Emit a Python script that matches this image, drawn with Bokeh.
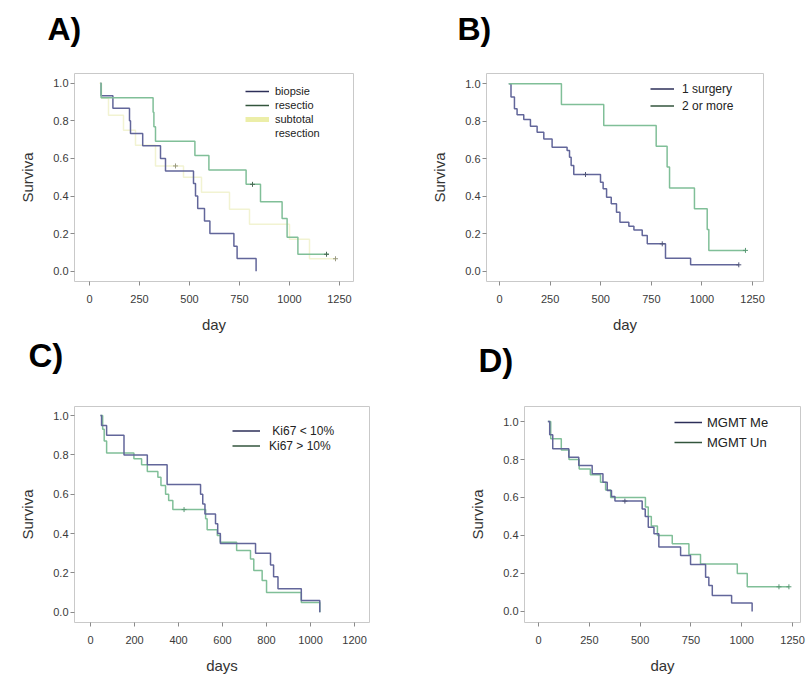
from bokeh.plotting import figure
from bokeh.models import (Legend, LegendItem, FixedTicker, Range1d,
                          NumeralTickFormatter)
from bokeh.core.properties import value
from bokeh.layouts import column, row
from bokeh.embed import file_html
from bokeh.resources import INLINE

# ---------------- data ----------------
# Panel A : extent of resection
a_biopsie_t = [55, 58, 117, 200, 205, 266, 355, 380, 520, 530, 541, 575, 602, 722, 738, 833]
a_biopsie_s = [1.0, 0.933, 0.867, 0.8, 0.733, 0.667, 0.6, 0.533, 0.467, 0.4, 0.333, 0.267, 0.2, 0.133, 0.067, 0.0]
a_resect_t = [55, 58, 318, 322, 330, 527, 597, 783, 855, 963, 988, 1042, 1197]
a_resect_s = [1.0, 0.923, 0.846, 0.769, 0.692, 0.615, 0.538, 0.462, 0.37, 0.28, 0.18, 0.09, 0.09]
a_subtot_t = [50, 60, 95, 170, 230, 330, 470, 560, 700, 800, 1000, 1100, 1230]
a_subtot_s = [1.0, 0.92, 0.83, 0.75, 0.67, 0.56, 0.5, 0.42, 0.33, 0.25, 0.17, 0.066, 0.066]
a_resect_cens_t = [815, 1185]
a_resect_cens_s = [0.462, 0.09]
a_subtot_cens_t = [430, 1230]
a_subtot_cens_s = [0.56, 0.066]

# Panel B : number of surgeries
b_one_t = [46, 57, 74, 87, 120, 153, 186, 219, 260, 334, 346, 354, 367, 499, 512, 529,
           552, 578, 595, 639, 664, 705, 730, 820, 944, 1182]
b_one_s = [1.0, 0.93, 0.867, 0.835, 0.81, 0.774, 0.742, 0.706, 0.662, 0.644, 0.608, 0.564,
           0.516, 0.475, 0.44, 0.395, 0.36, 0.315, 0.261, 0.24, 0.22, 0.19, 0.146, 0.069, 0.034, 0.034]
b_two_t = [46, 306, 515, 774, 828, 840, 963, 1026, 1034, 1215]
b_two_s = [1.0, 0.889, 0.778, 0.667, 0.556, 0.444, 0.333, 0.222, 0.111, 0.111]
b_one_cens_t = [425, 804, 1182]
b_one_cens_s = [0.516, 0.146, 0.034]
b_two_cens_t = [1215]
b_two_cens_s = [0.111]

# Panel C : Ki67
c_low_t = [45, 50, 73, 152, 258, 348, 500, 510, 520, 568, 578, 590, 750, 818, 832, 852, 958, 1042]
c_low_s = [1.0, 0.95, 0.9, 0.8, 0.75, 0.65, 0.6, 0.55, 0.5, 0.45, 0.4, 0.35, 0.3, 0.24, 0.18, 0.12, 0.06, 0.0]
c_high_t = [45, 55, 62, 73, 197, 232, 258, 306, 320, 341, 355, 374, 523, 530, 576, 590, 664,
            727, 742, 780, 800, 958, 1042]
c_high_s = [1.0, 0.93, 0.87, 0.81, 0.78, 0.75, 0.715, 0.686, 0.644, 0.6, 0.568, 0.522, 0.475,
            0.42, 0.39, 0.356, 0.314, 0.271, 0.212, 0.161, 0.10, 0.05, 0.0]
c_high_cens_t = [425]
c_high_cens_s = [0.522]

# Panel D : MGMT
d_me_t = [46, 55, 70, 149, 198, 264, 317, 338, 359, 376, 510, 525, 540, 568, 592, 699, 748,
          822, 838, 855, 950, 1051]
d_me_s = [1.0, 0.93, 0.856, 0.812, 0.768, 0.725, 0.68, 0.637, 0.605, 0.581, 0.54, 0.5, 0.444,
          0.409, 0.339, 0.295, 0.247, 0.18, 0.137, 0.084, 0.044, 0.0]
d_un_t = [46, 60, 112, 150, 200, 255, 305, 330, 355, 526, 540, 555, 585, 658, 740, 797, 978, 1027, 1232]
d_un_s = [1.0, 0.909, 0.85, 0.80, 0.75, 0.72, 0.68, 0.64, 0.60, 0.55, 0.50, 0.45, 0.40, 0.357,
          0.30, 0.25, 0.20, 0.13, 0.13]
d_me_cens_t = [425]
d_me_cens_s = [0.581]
d_un_cens_t = [1183, 1232]
d_un_cens_s = [0.13, 0.13]

ticks_250 = [0, 250, 500, 750, 1000, 1250]
ticks_200 = [0, 200, 400, 600, 800, 1000, 1200]
y_ticks = [0.0, 0.2, 0.4, 0.6, 0.8, 1.0]

panel_letters_top = ["A)", "B)"]
panel_letters_bottom = ["C)", "D)"]

# ---------------- style ----------------
FONT = "Liberation Sans"
BLUE = "#62669a"
GREEN = "#80bf98"
YELLOW = "#f2f3d2"
LEG_YELLOW = "#eceea8"
LEG_BLUE = "#2c2f58"
LEG_GREEN = "#33553c"
NAN = float("nan")
PAGE_W = 806


def header(height, letters, xs, middles, size):
    """A thin strip (pixel-like coordinates, y downwards) holding panel letters."""
    h = figure(frame_width=PAGE_W, frame_height=height,
               min_border_left=0, min_border_right=0, min_border_top=0, min_border_bottom=0,
               x_range=Range1d(0, PAGE_W), y_range=Range1d(height, 0),
               output_backend="svg", toolbar_location=None)
    h.axis.visible = False
    h.grid.visible = False
    h.outline_line_color = None
    h.text(x=xs, y=middles, text=letters, text_font=value(FONT),
           text_font_size=value(size), text_font_style="bold", text_color="black",
           text_baseline="middle", text_align="left")
    return h


def make_panel(fw, fh, borders, xr, yr, xticks, xlabel):
    left, right, top, bottom = borders
    p = figure(frame_width=fw, frame_height=fh,
               min_border_left=left, min_border_right=right,
               min_border_top=top, min_border_bottom=bottom,
               x_range=Range1d(*xr), y_range=Range1d(*yr),
               output_backend="svg", toolbar_location=None)
    p.grid.visible = False
    p.outline_line_color = "#c9c9c9"
    p.outline_line_width = 1
    p.background_fill_color = "white"
    p.border_fill_color = "white"
    for ax in (p.xaxis, p.yaxis):
        ax.axis_line_color = None
        ax.major_tick_line_color = "#8a8a8a"
        ax.minor_tick_line_color = None
        ax.major_tick_in = 0
        ax.major_tick_out = 4
        ax.major_label_text_font = FONT
        ax.major_label_text_font_size = "11px"
        ax.major_label_text_color = "#3a3a3a"
        ax.axis_label_text_font = FONT
        ax.axis_label_text_font_size = "15px"
        ax.axis_label_text_font_style = "normal"
        ax.axis_label_text_color = "#333333"
    p.xaxis.ticker = FixedTicker(ticks=xticks)
    p.yaxis.ticker = FixedTicker(ticks=y_ticks)
    p.yaxis.formatter = NumeralTickFormatter(format="0.0")
    p.xaxis.major_label_standoff = 9
    p.yaxis.major_label_standoff = 2
    p.xaxis.axis_label = xlabel
    p.yaxis.axis_label = "Surviva"
    p.xaxis.axis_label_standoff = 10
    p.yaxis.axis_label_standoff = 14
    return p


def km(p, t, s, color, width=1.5):
    return p.step(x=t, y=s, mode="after", line_color=color, line_width=width)


def cens(p, t, s, color):
    p.scatter(x=t, y=s, marker="cross", size=5, line_color=color, line_width=1)


def legend(p, labels, colors, loc, font_size, row_h, glyph_w, standoff):
    items = []
    for lab, col in zip(labels, colors):
        if col is None:
            r = p.line(x=[NAN], y=[NAN], line_alpha=0)
        else:
            r = p.line(x=[NAN], y=[NAN], line_color=col,
                       line_width=5 if col == LEG_YELLOW else 1.5)
        items.append(LegendItem(label=lab, renderers=[r]))
    lg = Legend(items=items, location=loc, border_line_color=None,
                background_fill_alpha=0, padding=0, spacing=0, margin=0,
                label_standoff=standoff, glyph_width=glyph_w, glyph_height=row_h,
                label_height=row_h, label_text_font=FONT,
                label_text_font_size=font_size, label_text_color="#222222")
    p.add_layout(lg)


# ---------------- headers with the panel letters ----------------
head1 = header(50, panel_letters_top, [47, 457], [28.5, 28.5], "32px")
head2 = header(44, panel_letters_bottom, [28, 478], [19, 24], "33px")

# ---------------- Panel A ----------------
pa = make_panel(279, 208, (74, 57, 23, 55),
                (-75, 1320), (-0.055, 1.052), ticks_250, "day")
km(pa, a_subtot_t, a_subtot_s, YELLOW, 1.5)
km(pa, a_biopsie_t, a_biopsie_s, BLUE)
km(pa, a_resect_t, a_resect_s, GREEN)
cens(pa, a_resect_cens_t, a_resect_cens_s, "#4a6a55")
cens(pa, a_subtot_cens_t, a_subtot_cens_s, "#9a9a80")
legend(pa, ["biopsie", "resectio", "subtotal", "resection"],
       [LEG_BLUE, LEG_GREEN, LEG_YELLOW, None], (171, 141), "11px", 14, 24, 6)

# ---------------- Panel B ----------------
pb = make_panel(277, 208, (76, 43, 23, 55),
                (-64, 1304), (-0.055, 1.055), ticks_250, "day")
km(pb, b_one_t, b_one_s, BLUE)
km(pb, b_two_t, b_two_s, GREEN)
cens(pb, b_one_cens_t, b_one_cens_s, "#50557a")
cens(pb, b_two_cens_t, b_two_cens_s, "#5a9a75")
legend(pb, ["1 surgery", "2 or more"], [LEG_BLUE, LEG_GREEN], (164, 167), "12px", 17, 24, 8)

# ---------------- Panel C ----------------
pc = make_panel(295, 216, (74, 41, 26, 55),
                (-73, 1268), (-0.052, 1.046), ticks_200, "days")
km(pc, c_high_t, c_high_s, GREEN)
km(pc, c_low_t, c_low_s, BLUE)
cens(pc, c_high_cens_t, c_high_cens_s, "#5a9a75")
legend(pc, [" Ki67 < 10%", "Ki67 > 10%"], [LEG_BLUE, LEG_GREEN], (158, 169), "12px", 15, 28, 9)

# ---------------- Panel D ----------------
pd_ = make_panel(276, 216, (114, 6, 26, 55),
                 (-69, 1289), (-0.058, 1.079), ticks_250, "day")
km(pd_, d_un_t, d_un_s, GREEN)
km(pd_, d_me_t, d_me_s, BLUE)
cens(pd_, d_me_cens_t, d_me_cens_s, "#50557a")
cens(pd_, d_un_cens_t, d_un_cens_s, "#5a9a75")
legend(pd_, ["MGMT Me", "MGMT Un"], [LEG_BLUE, LEG_GREEN], (150, 170), "13px", 20, 28, 5)

layout = column(head1, row(pa, pb), head2, row(pc, pd_))
open("out.html", "w").write(file_html(layout, INLINE))
